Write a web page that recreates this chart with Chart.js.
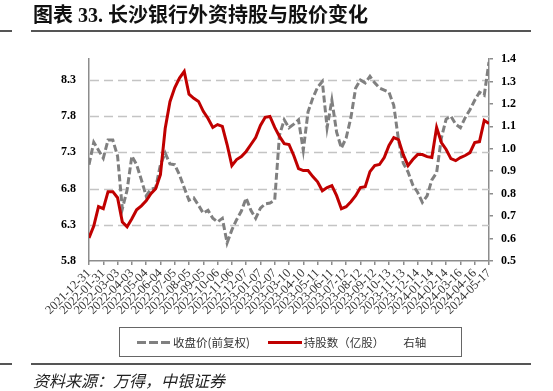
<!DOCTYPE html>
<html>
<head>
<meta charset="utf-8">
<script src="https://cdn.jsdelivr.net/npm/chart.js@4.4.1/dist/chart.umd.min.js"></script>
<style>
  body { margin: 0; background: #fff; }
  .page { position: relative; width: 553px; height: 391px; overflow: hidden; }
  #chart { position: absolute; left: 0; top: 0; }
  .title { position: absolute; left: 33px; top: 3px; font: bold 20px "Liberation Serif", "Noto Sans CJK SC"; color: #111; line-height: 24px; white-space: nowrap; }
  .rule { position: absolute; height: 1.5px; background: #555; }
  .source { position: absolute; left: 33px; top: 369px; font: italic 16px "Noto Sans CJK SC"; color: #222; line-height: 22px; }
  #legend { position: absolute; left: 119px; top: 327px; width: 324px; height: 28px; border: 1px solid #666;
            display: flex; align-items: center; font: 11.5px "Noto Sans CJK SC"; color: #333; white-space: nowrap; }
  .item { display: flex; align-items: center; }
  .swatch { height: 3px; width: 34px; margin-right: 2px; }
</style>
</head>
<body>
<div class="page">
  <canvas id="chart" width="553" height="391"></canvas>
  <div class="title">图表 33. 长沙银行外资持股与股价变化</div>
  <div class="rule" style="left:0;top:30px;width:12px"></div>
  <div class="rule" style="left:31px;top:30px;width:500px"></div>
  <div id="legend"></div>
  <div class="rule" style="left:0;top:363px;width:12px"></div>
  <div class="rule" style="left:31px;top:363px;width:500px"></div>
  <div class="source">资料来源：万得，中银证券</div>
</div>
<script>
// x 轴标签（每 31 天一个）
const tickLabels = [
  "2021-12-31", "2022-01-31", "2022-03-03", "2022-04-03", "2022-05-04", "2022-06-04",
  "2022-07-05", "2022-08-05", "2022-09-05", "2022-10-06", "2022-11-06", "2022-12-07",
  "2023-01-07", "2023-02-07", "2023-03-10", "2023-04-10", "2023-05-11", "2023-06-11",
  "2023-07-12", "2023-08-12", "2023-09-12", "2023-10-13", "2023-11-13", "2023-12-14",
  "2024-01-14", "2024-02-14", "2024-03-16", "2024-04-16", "2024-05-17"
];
// 每个标签间隔取 3 个点
const stepsPerLabel = 3;

// 收盘价(前复权)，左轴
const closePrice = [
  7.13, 7.44, 7.33, 7.22, 7.47, 7.47, 7.25, 6.52, 6.78, 7.25,
  7.13, 6.92, 6.70, 6.79, 6.81, 7.13, 7.29, 7.14, 7.13, 6.99,
  6.81, 6.64, 6.67, 6.57, 6.46, 6.50, 6.39, 6.34, 6.39, 6.05,
  6.23, 6.37, 6.49, 6.67, 6.50, 6.39, 6.53, 6.59, 6.60, 6.64,
  7.54, 7.75, 7.64, 7.69, 7.75, 7.33, 7.86, 8.05, 8.20, 8.28,
  7.64, 8.02, 7.58, 7.36, 7.50, 7.78, 8.19, 8.30, 8.26, 8.35,
  8.26, 8.19, 8.16, 8.13, 7.95, 7.47, 7.15, 7.03, 6.85, 6.75,
  6.61, 6.70, 6.92, 7.02, 7.50, 7.76, 7.80, 7.69, 7.64, 7.78,
  7.89, 8.02, 8.13, 8.09, 8.55
];

// 持股数（亿股），右轴
const holdings = [
  0.603, 0.656, 0.742, 0.733, 0.809, 0.809, 0.782, 0.674, 0.652, 0.688,
  0.728, 0.746, 0.768, 0.800, 0.822, 0.885, 1.09, 1.21, 1.272, 1.315,
  1.345, 1.243, 1.225, 1.211, 1.167, 1.135, 1.095, 1.108, 1.100, 1.019,
  0.925, 0.952, 0.965, 0.988, 1.019, 1.050, 1.104, 1.140, 1.144, 1.095,
  1.055, 1.023, 1.019, 0.970, 0.912, 0.903, 0.903, 0.876, 0.853, 0.813,
  0.827, 0.836, 0.791, 0.733, 0.742, 0.764, 0.791, 0.827, 0.831, 0.898,
  0.925, 0.930, 0.961, 1.015, 1.050, 1.041, 0.974, 0.925, 0.952, 0.974,
  0.974, 0.965, 0.961, 1.095, 1.028, 0.997, 0.956, 0.947, 0.961, 0.970,
  0.983, 1.028, 1.032, 1.126, 1.113
];

const leftTicks = [5.8, 6.3, 6.8, 7.3, 7.8, 8.3];
const rightTicks = [0.5, 0.6, 0.7, 0.8, 0.9, 1.0, 1.1, 1.2, 1.3, 1.4];

const toPoints = (arr) => arr.map((v, i) => ({ x: i / stepsPerLabel, y: v }));

const tickFont = { family: "Liberation Serif", size: 12, weight: "bold" };
const axisGray = "#8c8c8c";

// 虚线网格（按左轴刻度）
const dashedGrid = {
  id: "dashedGrid",
  beforeDatasetsDraw(chart) {
    const { ctx, chartArea } = chart;
    const y = chart.scales.y;
    ctx.save();
    ctx.strokeStyle = "#c4c4c4";
    ctx.lineWidth = 1.5;
    ctx.setLineDash([9, 5]);
    leftTicks.slice(1).forEach((v) => {
      const py = Math.round(y.getPixelForValue(v)) + 0.5;
      ctx.beginPath();
      ctx.moveTo(chartArea.left + 1, py);
      ctx.lineTo(chartArea.right, py);
      ctx.stroke();
    });
    ctx.restore();
  },
};

const chart = new Chart(document.getElementById("chart"), {
  type: "line",
  data: {
    datasets: [
      {
        label: "收盘价(前复权)",
        data: toPoints(closePrice),
        yAxisID: "y",
        borderColor: "#808080",
        borderWidth: 3,
        borderDash: [7, 3],
        pointRadius: 0,
        order: 2,
      },
      {
        label: "持股数（亿股）",
        note: "右轴",
        data: toPoints(holdings),
        yAxisID: "y1",
        borderColor: "#C00000",
        borderWidth: 3,
        pointRadius: 0,
        order: 1,
      },
    ],
  },
  options: {
    responsive: false,
    animation: false,
    layout: { padding: { top: 59, left: 0, right: 0, bottom: 0 } },
    plugins: { legend: { display: false }, tooltip: { enabled: false } },
    scales: {
      x: {
        type: "linear",
        min: 0,
        max: tickLabels.length - 1,
        afterBuildTicks: (s) => { s.ticks = tickLabels.map((_, i) => ({ value: i })); },
        afterFit: (s) => { s.height = 130; },
        ticks: {
          autoSkip: false,
          minRotation: 45,
          maxRotation: 45,
          padding: 1,
          color: "#333",
          font: { family: "Liberation Serif", size: 12.5 },
          callback: (v, i) => tickLabels[i],
        },
        grid: { drawOnChartArea: false, tickLength: 4, color: axisGray, lineWidth: 1.5 },
        border: { color: axisGray, width: 1.5 },
      },
      y: {
        position: "left",
        min: 5.8,
        max: 8.59,
        afterBuildTicks: (s) => { s.ticks = leftTicks.map((v) => ({ value: v })); },
        afterFit: (s) => { s.width = 89; },
        ticks: { padding: 13, color: "#000", font: tickFont, callback: (v) => v.toFixed(1) },
        grid: { drawOnChartArea: false, drawTicks: false },
        border: { color: axisGray, width: 1.5 },
      },
      y1: {
        position: "right",
        min: 0.5,
        max: 1.4,
        afterBuildTicks: (s) => { s.ticks = rightTicks.map((v) => ({ value: v })); },
        afterFit: (s) => { s.width = 64; },
        ticks: { padding: 8, color: "#000", font: tickFont, callback: (v) => v.toFixed(1) },
        grid: { drawOnChartArea: false, tickLength: 4, color: axisGray, lineWidth: 1.5 },
        border: { color: axisGray, width: 1.5 },
      },
    },
  },
  plugins: [dashedGrid],
});

// 图例（带边框）
const legend = document.getElementById("legend");
legend.style.paddingLeft = "17px";
chart.data.datasets.forEach((ds, i) => {
  const item = document.createElement("div");
  item.className = "item";
  item.style.marginRight = i === 0 ? "18px" : "0";
  const sw = document.createElement("span");
  sw.className = "swatch";
  if (ds.borderDash) {
    sw.style.background = "repeating-linear-gradient(to right," + ds.borderColor + " 0 9px, transparent 9px 12px)";
  } else {
    sw.style.background = ds.borderColor;
  }
  item.appendChild(sw);
  const txt = document.createElement("span");
  txt.textContent = ds.label;
  item.appendChild(txt);
  if (ds.note) {
    const note = document.createElement("span");
    note.textContent = ds.note;
    note.style.marginLeft = "19px";
    item.appendChild(note);
  }
  legend.appendChild(item);
});
</script>
</body>
</html>
